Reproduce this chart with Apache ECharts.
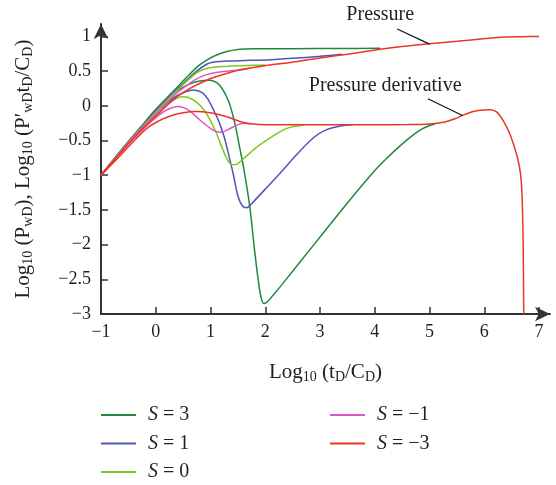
<!DOCTYPE html>
<html>
<head>
<meta charset="utf-8">
<script src="https://cdn.jsdelivr.net/npm/echarts@6/dist/echarts.min.js"></script>
<style>
html,body{margin:0;padding:0;background:#fff;}
#c{width:556px;height:485px;}
</style>
</head>
<body>
<div id="c"></div>
<script>
const xTicks = [-1, 0, 1, 2, 3, 4, 5, 6, 7];
const yTicks = [-3, -2.5, -2, -1.5, -1, -0.5, 0, 0.5, 1];
const seriesNames = ['S = 3', 'S = 1', 'S = 0', 'S = −1', 'S = −3'];
const seriesColors = ['#1f8a3b', '#4c55b8', '#7cc91e', '#e055c6', '#ec3424'];

const pressureS3 = [[-1,-1],[-0.6,-0.61],[-0.29,-0.32],[0,-0.05],[0.32,0.21],[0.6,0.44],[0.8,0.59],[0.93,0.66],[1.1,0.73],[1.3,0.785],[1.54,0.815],[1.8,0.822],[2.5,0.825],[3.3,0.826],[4.1,0.83]];
const pressureS1 = [[-1,-1],[-0.6,-0.615],[-0.29,-0.33],[0,-0.07],[0.32,0.19],[0.5,0.32],[0.7,0.47],[0.93,0.6],[1.1,0.635],[1.3,0.645],[1.54,0.652],[2.1,0.665],[2.6,0.69],[3.0,0.715],[3.4,0.745]];
const pressureS0 = [[-1,-1],[-0.6,-0.62],[-0.29,-0.34],[0,-0.09],[0.32,0.17],[0.63,0.4],[0.8,0.5],[0.93,0.54],[1.1,0.56],[1.27,0.568],[1.54,0.578],[1.8,0.585],[2.0,0.59]];
const pressureSm1 = [[-1,-1],[-0.6,-0.625],[-0.29,-0.35],[0,-0.11],[0.32,0.14],[0.63,0.33],[0.8,0.41],[0.93,0.45],[1.1,0.48],[1.3,0.5],[1.5,0.515],[1.7,0.54]];
const pressureSm3 = [[-1,-1],[-0.6,-0.635],[-0.29,-0.37],[0,-0.15],[0.32,0.09],[0.6,0.24],[0.93,0.37],[1.2,0.445],[1.54,0.52],[2.0,0.58],[2.5,0.63],[3.0,0.69],[3.5,0.745],[4.1,0.815],[4.5,0.855],[5.0,0.895],[5.5,0.93],[5.93,0.965],[6.3,0.99],[6.7,0.998],[7.0,1.0]];

const derivS3 = [[-1,-1],[-0.6,-0.61],[-0.29,-0.325],[0,-0.06],[0.3,0.17],[0.6,0.31],[0.8,0.36],[0.99,0.37],[1.12,0.33],[1.22,0.24],[1.3,0.12],[1.36,0.0],[1.45,-0.27],[1.52,-0.55],[1.6,-0.87],[1.72,-1.47],[1.8,-2.05],[1.87,-2.5],[1.92,-2.75],[1.97,-2.85],[2.03,-2.83],[2.1,-2.77],[2.3,-2.58],[2.94,-1.95],[3.5,-1.4],[3.98,-0.95],[4.2,-0.77],[4.4,-0.62],[4.65,-0.45],[4.85,-0.34],[5.01,-0.28],[5.1,-0.26]];
const derivS1 = [[-1,-1],[-0.6,-0.62],[-0.29,-0.34],[0,-0.1],[0.3,0.1],[0.5,0.19],[0.69,0.23],[0.85,0.19],[0.95,0.1],[1.05,-0.05],[1.15,-0.22],[1.25,-0.45],[1.33,-0.7],[1.42,-1.0],[1.5,-1.3],[1.58,-1.44],[1.66,-1.47],[1.75,-1.41],[2.0,-1.2],[2.27,-0.97],[2.6,-0.68],[2.88,-0.46],[3.1,-0.35],[3.37,-0.29],[3.6,-0.272]];
const derivS0 = [[-1,-1],[-0.6,-0.63],[-0.29,-0.36],[0,-0.13],[0.25,0.04],[0.48,0.13],[0.6,0.12],[0.75,0.05],[0.87,-0.05],[0.97,-0.17],[1.1,-0.38],[1.22,-0.62],[1.3,-0.76],[1.39,-0.85],[1.48,-0.84],[1.66,-0.72],[1.85,-0.59],[2.09,-0.46],[2.3,-0.36],[2.45,-0.31],[2.7,-0.275]];
const derivSm1 = [[-1,-1],[-0.6,-0.64],[-0.29,-0.38],[0,-0.17],[0.2,-0.06],[0.41,-0.01],[0.6,-0.06],[0.8,-0.2],[0.99,-0.32],[1.1,-0.37],[1.2,-0.38],[1.35,-0.33],[1.5,-0.27],[1.62,-0.25],[1.75,-0.258]];
const derivSm3 = [[-1,-1],[-0.7,-0.76],[-0.5,-0.59],[-0.2,-0.35],[0,-0.24],[0.29,-0.14],[0.5,-0.1],[0.72,-0.08],[1.0,-0.1],[1.27,-0.15],[1.54,-0.225],[1.7,-0.255],[1.9,-0.268],[2.2,-0.272],[3,-0.273],[4,-0.273],[4.6,-0.27],[5.0,-0.26],[5.26,-0.235],[5.45,-0.19],[5.62,-0.13],[5.8,-0.08],[5.99,-0.058],[6.11,-0.056],[6.23,-0.09],[6.35,-0.22],[6.48,-0.43],[6.6,-0.73],[6.66,-0.97],[6.69,-1.3],[6.71,-2.0],[6.72,-3.0]];

const pressureCurves = [pressureS3, pressureS1, pressureS0, pressureSm1, pressureSm3];
const derivCurves = [derivS3, derivS1, derivS0, derivSm1, derivSm3];

const annotationTexts = ['Pressure', 'Pressure derivative'];
const annotationTextAt = [[4.1, 1.31], [4.19, 0.29]];
const annotationLines = [[[4.41, 1.107], [5.0, 0.89]], [[4.97, 0.102], [5.61, -0.143]]];

const FONT = '"Liberation Serif", "DejaVu Serif", serif';
const TXT = '#231f20';
const AX = '#333333';

const series = [];
seriesNames.forEach((name, i) => {
  [pressureCurves[i], derivCurves[i]].forEach(d => {
    series.push({
      type: 'line', name: name, data: d, showSymbol: false, symbol: 'none',
      smooth: 0.3, lineStyle: { width: 1.5, color: seriesColors[i] },
      itemStyle: { color: seriesColors[i] }, z: 2 + i, silent: true, clip: false
    });
  });
});

function legendFmt(name) {
  return '{i|S}{t|' + name.slice(1) + '}';
}
const legendText = {
  fontFamily: FONT, fontSize: 20, color: TXT, lineHeight: 20,
  rich: {
    i: { fontFamily: FONT, fontSize: 20, fontStyle: 'italic', color: TXT, padding: [0, 0, 0, 7] },
    t: { fontFamily: FONT, fontSize: 20, color: TXT }
  }
};
const nameRich = {
  m: { fontFamily: FONT, fontSize: 21, color: TXT, lineHeight: 24 },
  s: { fontFamily: FONT, fontSize: 14, color: TXT, verticalAlign: 'bottom', lineHeight: 24 }
};
function fmtNum(v) { return String(v).replace('-', '−'); }

const chart = echarts.init(document.getElementById('c'), null, { renderer: 'canvas' });
chart.setOption({
  animation: false,
  backgroundColor: '#fff',
  grid: { left: 101, right: 6, top: 24, bottom: 171, containLabel: false },
  xAxis: {
    type: 'value', min: -1, max: 7.2, interval: 1,
    axisLine: { show: true, onZero: false, symbol: ['none', 'arrow'], symbolSize: [11, 15], lineStyle: { color: AX, width: 2 } },
    axisTick: { show: true, inside: true, length: 7, customValues: xTicks, lineStyle: { color: AX, width: 1.5 } },
    axisLabel: { customValues: xTicks, margin: 9, fontFamily: FONT, fontSize: 18, color: TXT, formatter: fmtNum },
    splitLine: { show: false },
    name: '{m|Log}{s|10}{m| (t}{s|D}{m|/C}{s|D}{m|)}',
    nameLocation: 'middle', nameGap: 46,
    nameTextStyle: { fontFamily: FONT, fontSize: 21, color: TXT, rich: nameRich }
  },
  yAxis: {
    type: 'value', min: -3, max: 1.18, interval: 0.5,
    axisLine: { show: true, onZero: false, symbol: ['none', 'arrow'], symbolSize: [11, 15], lineStyle: { color: AX, width: 2 } },
    axisTick: { show: true, inside: true, length: 7, customValues: yTicks, lineStyle: { color: AX, width: 1.5 } },
    axisLabel: { customValues: yTicks, margin: 10, fontFamily: FONT, fontSize: 18, color: TXT, formatter: fmtNum },
    splitLine: { show: false },
    name: '{m|Log}{s|10}{m| (P}{s|wD}{m|), Log}{s|10}{m| (P′}{s|wD}{m|t}{s|D}{m|/C}{s|D}{m|)}',
    nameLocation: 'middle', nameGap: 66, nameRotate: 90,
    nameTextStyle: { fontFamily: FONT, fontSize: 21, color: TXT, rich: nameRich }
  },
  legend: [
    { data: seriesNames.slice(0, 3), orient: 'vertical', left: 101, top: 405, itemWidth: 35, itemHeight: 2, itemGap: 8.5, icon: 'rect', formatter: legendFmt, textStyle: legendText, selectedMode: false, padding: 0 },
    { data: seriesNames.slice(3), orient: 'vertical', left: 330, top: 405, itemWidth: 35, itemHeight: 2, itemGap: 8.5, icon: 'rect', formatter: legendFmt, textStyle: legendText, selectedMode: false, padding: 0 }
  ],
  series: series
});

const graphics = [];
annotationTexts.forEach((t, i) => {
  const p = chart.convertToPixel({ gridIndex: 0 }, annotationTextAt[i]);
  graphics.push({ type: 'text', x: p[0], y: p[1], z: 50, style: { text: t, font: '20px ' + FONT, fill: TXT, align: 'center', verticalAlign: 'middle' } });
  const a = chart.convertToPixel({ gridIndex: 0 }, annotationLines[i][0]);
  const b = chart.convertToPixel({ gridIndex: 0 }, annotationLines[i][1]);
  graphics.push({ type: 'line', z: 50, shape: { x1: a[0], y1: a[1], x2: b[0], y2: b[1] }, style: { stroke: '#111', lineWidth: 1.2 } });
});
chart.setOption({ graphic: graphics });
</script>
</body>
</html>
